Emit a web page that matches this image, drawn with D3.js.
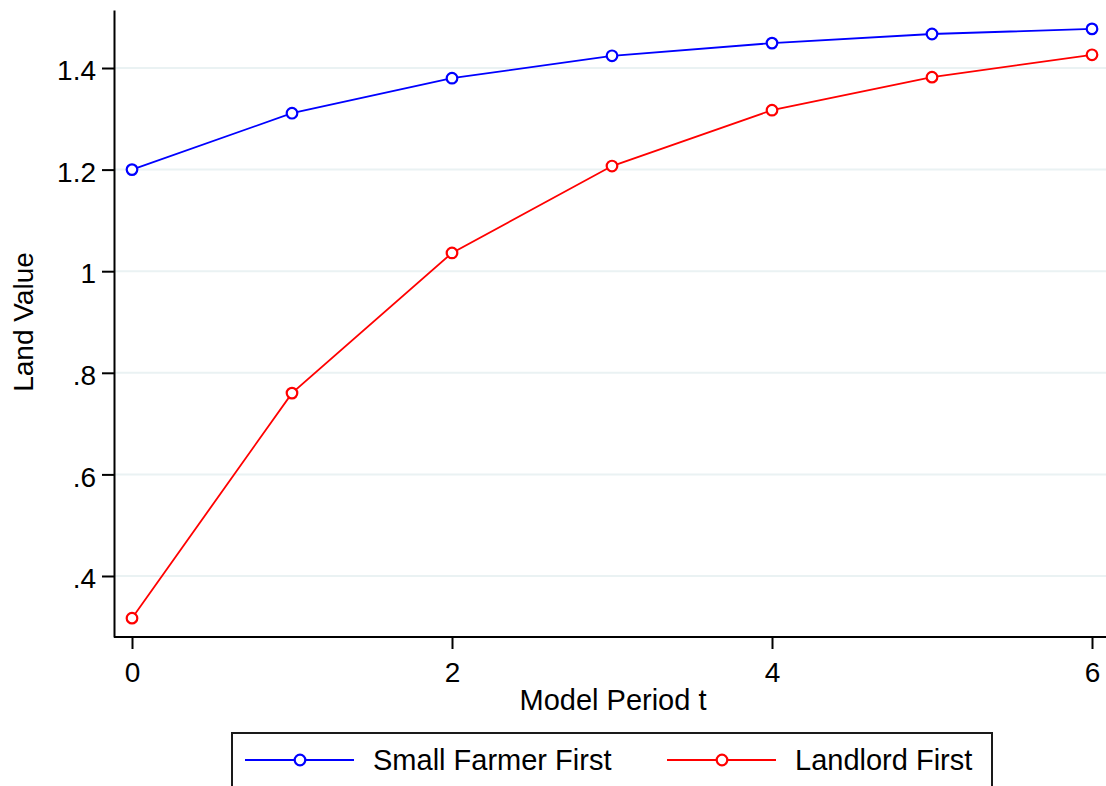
<!DOCTYPE html>
<html>
<head>
<meta charset="utf-8">
<script src="https://cdn.jsdelivr.net/npm/d3@7"></script>
<style>
  body { margin: 0; background: #fff; }
  svg { display: block; font-family: "Liberation Sans", Arial, sans-serif; }
</style>
</head>
<body>
<svg id="chart" width="1106" height="786"></svg>
<script>
// data
const periods = [0, 1, 2, 3, 4, 5, 6];
const smallFarmerFirst = [1.200, 1.311, 1.380, 1.424, 1.449, 1.467, 1.477];
const landlordFirst = [0.317, 0.760, 1.036, 1.207, 1.317, 1.382, 1.426];
const xTicks = [0, 2, 4, 6];
const yTicks = [0.4, 0.6, 0.8, 1.0, 1.2, 1.4];
const yTickLabels = [".4", ".6", ".8", "1", "1.2", "1.4"];
const seriesNames = ["Small Farmer First", "Landlord First"];

const width = 1106, height = 786;
const plot = { left: 114, right: 1106, top: 10, bottom: 637 };

const svg = d3.select("#chart");

const x = d3.scaleLinear()
    .domain([-0.1125, 6.0875])
    .range([plot.left, plot.right]);

const y = d3.scaleLinear()
    .domain([0.2799, 1.5142])
    .range([plot.bottom, plot.top]);

// gridlines
svg.append("g")
    .selectAll("line")
    .data(yTicks)
    .enter()
    .append("line")
    .attr("x1", plot.left + 1)
    .attr("x2", plot.right)
    .attr("y1", d => y(d))
    .attr("y2", d => y(d))
    .attr("stroke", "#eaf2f3")
    .attr("stroke-width", 2);

// axes
const xAxis = d3.axisBottom(x)
    .tickValues(xTicks)
    .tickFormat(d3.format("d"))
    .tickSize(12)
    .tickSizeOuter(0)
    .tickPadding(13);

const gx = svg.append("g")
    .attr("transform", `translate(0, ${plot.bottom})`)
    .call(xAxis);
gx.selectAll("path, line").attr("stroke", "#000").attr("stroke-width", 2);
gx.selectAll("text").attr("font-size", 28).attr("fill", "#000")
    .style("font-family", "'Liberation Sans', Arial, sans-serif");

const yAxis = d3.axisLeft(y)
    .tickValues(yTicks)
    .tickFormat((d, i) => yTickLabels[i])
    .tickSize(12)
    .tickSizeOuter(0)
    .tickPadding(6);

const gy = svg.append("g")
    .attr("transform", `translate(${plot.left}, 0)`)
    .call(yAxis);
gy.selectAll("path, line").attr("stroke", "#000").attr("stroke-width", 2);
gy.selectAll("text").attr("font-size", 28).attr("fill", "#000").attr("dy", "0.42em")
    .style("font-family", "'Liberation Sans', Arial, sans-serif");
gx.select(".domain").attr("d", `M${plot.left},0H${plot.right}`);

// axis titles
svg.append("text")
    .text("Model Period t")
    .attr("text-anchor", "middle")
    .attr("x", 613)
    .attr("y", 710)
    .attr("font-size", 29);

svg.append("text")
    .text("Land Value")
    .attr("text-anchor", "middle")
    .attr("transform", "translate(33, 322) rotate(-90)")
    .attr("font-size", 28);

// series
const series = [
    { name: seriesNames[0], values: smallFarmerFirst, color: "#0000ff" },
    { name: seriesNames[1], values: landlordFirst, color: "#ff0000" }
];

const line = d3.line()
    .x((d, i) => x(periods[i]))
    .y(d => y(d));

series.forEach(s => {
    svg.append("path")
        .datum(s.values)
        .attr("d", line)
        .attr("fill", "none")
        .attr("stroke", s.color)
        .attr("stroke-width", 1.8);

    svg.append("g")
        .selectAll("circle")
        .data(s.values)
        .enter()
        .append("circle")
        .attr("cx", (d, i) => x(periods[i]))
        .attr("cy", d => y(d))
        .attr("r", 5.3)
        .attr("fill", "#fff")
        .attr("stroke", s.color)
        .attr("stroke-width", 2.2);
});

// legend
const legend = svg.append("g");
legend.append("rect")
    .attr("x", 232)
    .attr("y", 733)
    .attr("width", 760)
    .attr("height", 80)
    .attr("fill", "#fff")
    .attr("stroke", "#1a1a1a")
    .attr("stroke-width", 2);

const legendX = [245, 667];
series.forEach((s, i) => {
    const g = legend.append("g").attr("transform", `translate(${legendX[i]}, 760)`);
    g.append("line")
        .attr("x1", 0).attr("x2", 109)
        .attr("stroke", s.color)
        .attr("stroke-width", 1.8);
    g.append("circle")
        .attr("cx", 55)
        .attr("r", 5.3)
        .attr("fill", "#fff")
        .attr("stroke", s.color)
        .attr("stroke-width", 2.2);
    g.append("text")
        .text(s.name)
        .attr("x", 128)
        .attr("y", 10)
        .attr("font-size", 29);
});
</script>
</body>
</html>
